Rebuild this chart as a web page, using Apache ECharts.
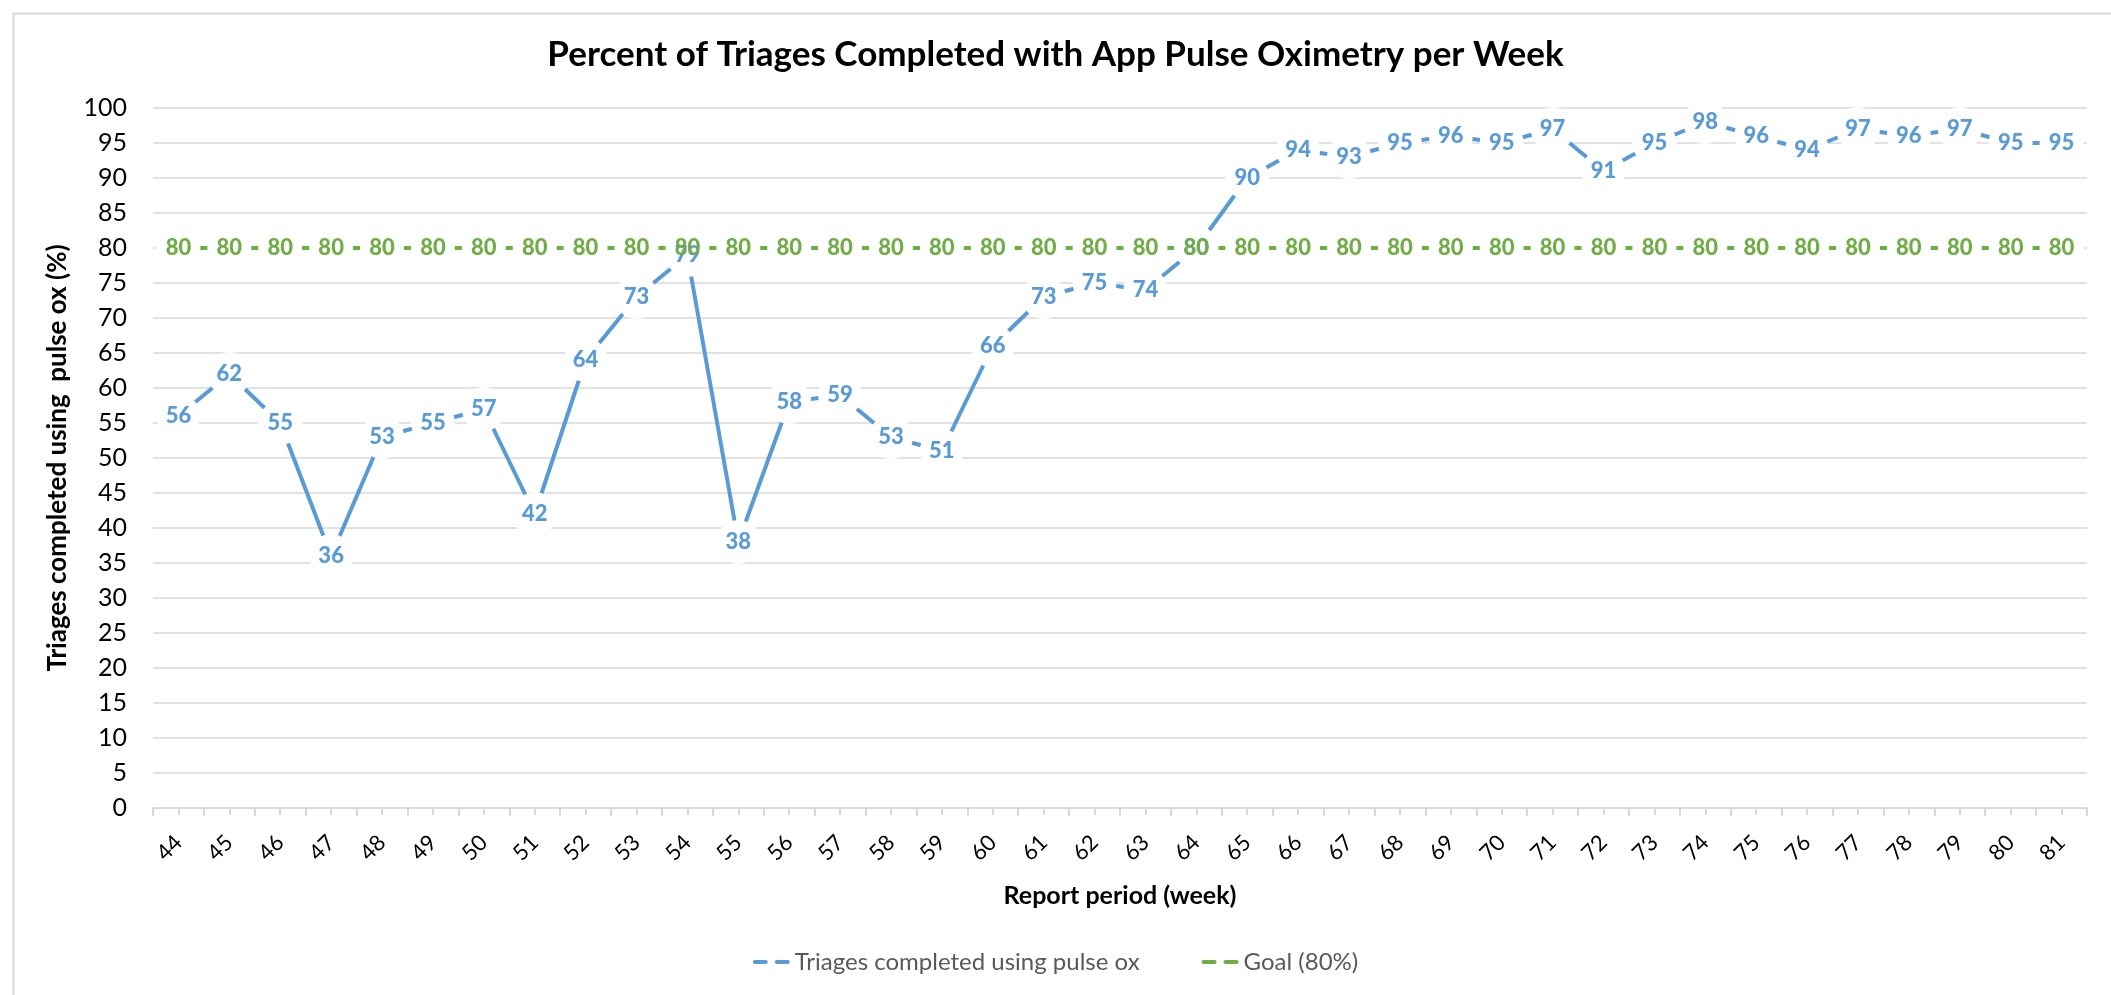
<!DOCTYPE html>
<html>
<head>
<meta charset="utf-8">
<script src="https://cdn.jsdelivr.net/npm/echarts@6/dist/echarts.min.js"></script>
<style>
html,body{margin:0;padding:0;background:#fff;}
#c{width:2111px;height:995px;}
</style>
</head>
<body>
<div id="c"></div>
<script>
const weeks = ['44','45','46','47','48','49','50','51','52','53','54','55','56','57','58','59','60','61','62','63','64','65','66','67','68','69','70','71','72','73','74','75','76','77','78','79','80','81'];
const triages = [56,62,55,36,53,55,57,42,64,73,79,38,58,59,53,51,66,73,75,74,80,90,94,93,95,96,95,97,91,95,98,96,94,97,96,97,95,95];
const goal = [80,80,80,80,80,80,80,80,80,80,80,80,80,80,80,80,80,80,80,80,80,80,80,80,80,80,80,80,80,80,80,80,80,80,80,80,80,80];
const seriesNames = ['Triages completed using pulse ox','Goal (80%)'];
const titleText = 'Percent of Triages Completed with App Pulse Oximetry per Week';
const yTitle = 'Triages completed using  pulse ox (%)';
const xTitle = 'Report period (week)';

const FONT = 'Lato';
const BLUE = '#5b9bd5';
const GREEN = '#70ad47';
const GRID = '#d9d9d9';
const DASH_ICON = 'path://M2,0 H13 A2,2 0 0 1 13,4 H2 A2,2 0 0 1 2,0 Z M24,0 H35 A2,2 0 0 1 35,4 H24 A2,2 0 0 1 24,0 Z';

const chart = echarts.init(document.getElementById('c'), null, {renderer:'canvas'});

function lineSeries(name, data, color){
  return {
    name: name,
    type: 'line',
    data: data,
    xAxisIndex: 0,
    symbol: 'circle',
    symbolSize: 44,
    showSymbol: true,
    itemStyle: {color: '#ffffff', borderWidth: 0},
    lineStyle: {color: color, width: 4},
    label: {
      show: true,
      position: 'inside',
      color: color,
      fontFamily: FONT,
      fontWeight: 900,
      fontSize: 22
    },
    emphasis: {disabled: true},
    animation: false
  };
}

chart.setOption({
  animation: false,
  backgroundColor: '#ffffff',
  textStyle: {fontFamily: FONT},
  title: {
    text: titleText,
    left: 'center',
    top: 32,
    textStyle: {fontFamily: FONT, fontWeight: 'bold', fontSize: 35, color: '#000'}
  },
  legend: {
    bottom: 16,
    left: 'center',
    itemWidth: 37,
    itemHeight: 4,
    itemGap: 62,
    textStyle: {fontFamily: FONT, fontSize: 24, color: '#595959'},
    data: [
      {name: seriesNames[0], icon: DASH_ICON, itemStyle: {color: BLUE}},
      {name: seriesNames[1], icon: DASH_ICON, itemStyle: {color: GREEN}}
    ]
  },
  grid: {left: 153, right: 24, top: 108, bottom: 187, containLabel: false},
  xAxis: [{
    type: 'category',
    data: weeks,
    boundaryGap: true,
    name: xTitle,
    nameLocation: 'middle',
    nameGap: 75,
    nameTextStyle: {fontFamily: FONT, fontWeight: 'bold', fontSize: 25, color: '#000'},
    axisLine: {show: true, lineStyle: {color: GRID, width: 2}},
    axisTick: {show: true, length: 8, lineStyle: {color: GRID, width: 2}},
    axisLabel: {rotate: 45, fontFamily: FONT, fontSize: 22, color: '#000', margin: 31, interval: 0},
    splitLine: {show: false}
  },{
    type: 'category',
    data: weeks,
    boundaryGap: true,
    position: 'bottom',
    axisLine: {show: false},
    axisTick: {show: true, alignWithLabel: true, interval: 0, length: 7, lineStyle: {color: GRID, width: 2}},
    axisLabel: {show: false},
    splitLine: {show: false}
  }],
  yAxis: {
    type: 'value',
    min: 0,
    max: 100,
    interval: 5,
    name: yTitle,
    nameLocation: 'middle',
    nameGap: 82,
    nameTextStyle: {fontFamily: FONT, fontWeight: 'bold', fontSize: 26, color: '#000'},
    axisLine: {show: false},
    axisTick: {show: false},
    axisLabel: {fontFamily: FONT, fontSize: 25, color: '#000', margin: 26},
    splitLine: {show: true, lineStyle: {color: GRID, width: 1.5}}
  },
  graphic: [{
    type: 'rect',
    left: 11, top: 11,
    shape: {x: 0, y: 0, width: 2200, height: 1100},
    style: {fill: 'none', stroke: GRID, lineWidth: 2},
    silent: true,
    z: -10
  }],
  series: [
    lineSeries(seriesNames[0], triages, BLUE),
    lineSeries(seriesNames[1], goal, GREEN)
  ]
});
</script>
</body>
</html>
